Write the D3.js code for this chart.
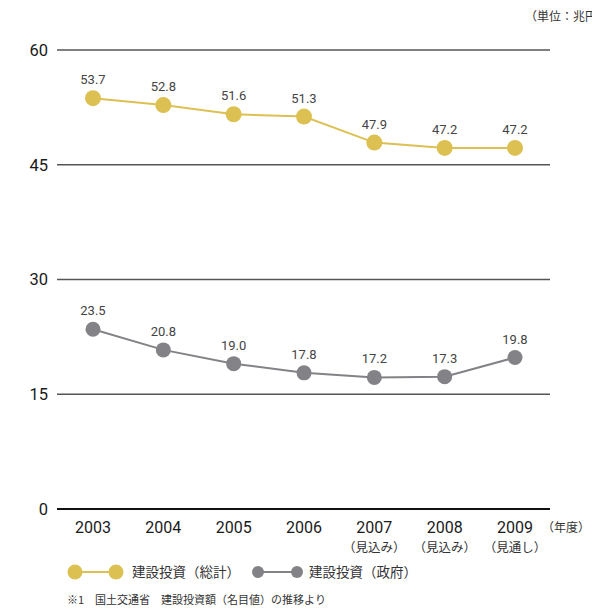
<!DOCTYPE html>
<html>
<head>
<meta charset="utf-8">
<script src="https://cdn.jsdelivr.net/npm/d3@7"></script>
<style>
  body { margin: 0; background: #fff; }
  text { font-family: "Noto Sans CJK JP", "Noto Sans", sans-serif; }
</style>
</head>
<body>
<div id="chart"></div>
<script>
const years = ['2003', '2004', '2005', '2006', '2007', '2008', '2009']
const subLabels = ['', '', '', '', '（見込み）', '（見込み）', '（見通し）']
const totalValues = [53.7, 52.8, 51.6, 51.3, 47.9, 47.2, 47.2]
const govValues = [23.5, 20.8, 19.0, 17.8, 17.2, 17.3, 19.8]
const yTicks = [0, 15, 30, 45, 60]
const seriesNames = ['建設投資（総計）', '建設投資（政府）']

const gold = '#dcc052'
const grey = '#838387'

const w = 592, h = 612
const svg = d3.select('#chart').append('svg')
    .attr('width', w)
    .attr('height', h)

const x = d3.scalePoint().domain(years).range([93, 515])
const y = d3.scaleLinear().domain([0, 60]).range([509, 50])

// gridlines + y labels
const grid = svg.append('g')
grid.selectAll('line').data(yTicks).enter().append('line')
    .attr('x1', 57).attr('x2', 550)
    .attr('y1', d => y(d)).attr('y2', d => y(d))
    .attr('stroke', d => d === 0 ? '#111' : '#555')
    .attr('stroke-width', d => d === 0 ? 2 : 1.3)
grid.selectAll('text').data(yTicks).enter().append('text')
    .attr('x', 48).attr('y', d => y(d))
    .attr('dy', '0.36em')
    .attr('text-anchor', 'end')
    .attr('font-size', 16.5)
    .attr('fill', '#1a1a1a')
    .style('font-family', 'Roboto, "Noto Sans", sans-serif')
    .text(d => d)

// x labels
const xl = svg.append('g')
xl.selectAll('text.yr').data(years).enter().append('text')
    .attr('class', 'yr')
    .attr('x', d => x(d)).attr('y', 533)
    .attr('text-anchor', 'middle')
    .attr('font-size', 16)
    .attr('fill', '#1a1a1a')
    .style('font-family', 'Roboto, "Noto Sans", sans-serif')
    .text(d => d)
xl.selectAll('text.sub').data(years).enter().append('text')
    .attr('class', 'sub')
    .attr('x', d => x(d)).attr('y', 552)
    .attr('text-anchor', 'middle')
    .attr('font-size', 12.5)
    .attr('fill', '#333')
    .text((d, i) => subLabels[i])
xl.append('text')
    .attr('x', 542).attr('y', 532)
    .attr('font-size', 12)
    .attr('fill', '#333')
    .text('（年度）')

// unit label (runs off the right edge, as in the source)
svg.append('text')
    .attr('x', 525).attr('y', 21)
    .attr('font-size', 12)
    .attr('fill', '#333')
    .text('（単位：兆円）')

const line = d3.line().x((d, i) => x(years[i])).y(d => y(d))

function drawSeries(values, color, r) {
    const g = svg.append('g')
    g.append('path').datum(values)
        .attr('d', line)
        .attr('fill', 'none')
        .attr('stroke', color)
        .attr('stroke-width', 2)
    g.selectAll('circle').data(values).enter().append('circle')
        .attr('cx', (d, i) => x(years[i]))
        .attr('cy', d => y(d))
        .attr('r', r)
        .attr('fill', color)
    g.selectAll('text').data(values).enter().append('text')
        .attr('x', (d, i) => x(years[i]))
        .attr('y', d => y(d) - 14)
        .attr('text-anchor', 'middle')
        .attr('font-size', 13)
        .attr('fill', '#444')
        .style('font-family', 'Roboto, "Noto Sans", sans-serif')
        .text(d => d.toFixed(1))
}
drawSeries(totalValues, gold, 8)
drawSeries(govValues, grey, 7.5)

// legend
const legend = [
    { name: seriesNames[0], color: gold, x1: 75, x2: 116, r: 7.5, tx: 132 },
    { name: seriesNames[1], color: grey, x1: 258, x2: 297, r: 6, tx: 309 }
]
const lg = svg.append('g')
legend.forEach(l => {
    lg.append('line').attr('x1', l.x1).attr('x2', l.x2)
        .attr('y1', 572).attr('y2', 572)
        .attr('stroke', l.color).attr('stroke-width', 2)
    lg.append('circle').attr('cx', l.x1).attr('cy', 572).attr('r', l.r).attr('fill', l.color)
    lg.append('circle').attr('cx', l.x2).attr('cy', 572).attr('r', l.r).attr('fill', l.color)
    lg.append('text').attr('x', l.tx).attr('y', 577)
        .attr('font-size', 13.5).attr('fill', '#333')
        .text(l.name)
})

svg.append('text')
    .attr('x', 67).attr('y', 604)
    .attr('font-size', 11)
    .attr('fill', '#333')
    .text('※1　国土交通省　建設投資額（名目値）の推移より')
</script>
</body>
</html>
